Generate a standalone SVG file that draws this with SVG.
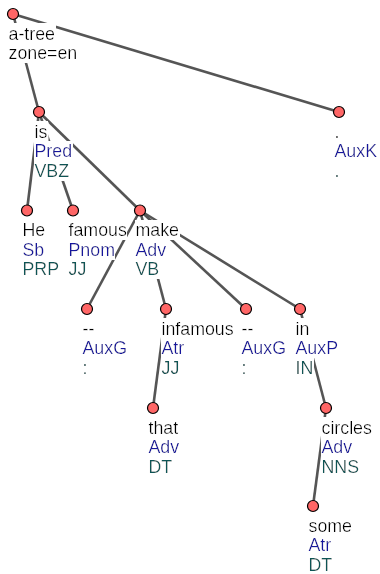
<svg xmlns="http://www.w3.org/2000/svg" width="380" height="574" viewBox="0 0 380 574">
<defs>
<filter id="bg" x="0" y="0" width="1" height="1"><feFlood flood-color="#ffffff"/><feComposite in="SourceGraphic"/></filter>
<style>
.e{stroke:#555;stroke-width:2.6;fill:none;stroke-linecap:butt}
.n{fill:#f66;stroke:#000;stroke-width:1.2}
text{font-family:"Liberation Sans",Arial,sans-serif;font-size:17.8px;filter:url(#bg)}
.f{fill:#000}
.a{fill:#16169c}
.t{fill:#0d5555}
</style>
</defs>
<rect width="380" height="574" fill="#fff"/>
<g id="connectors">
<line class="e" x1="13" y1="14" x2="39" y2="112"/>
<line class="e" x1="13" y1="14" x2="339" y2="112"/>
<line class="e" x1="39" y1="112" x2="27" y2="210.5"/>
<line class="e" x1="39" y1="112" x2="73" y2="210.5"/>
<line class="e" x1="39" y1="112" x2="140" y2="210.5"/>
<line class="e" x1="140" y1="210.5" x2="87" y2="309"/>
<line class="e" x1="140" y1="210.5" x2="166" y2="309"/>
<line class="e" x1="140" y1="210.5" x2="246" y2="309"/>
<line class="e" x1="140" y1="210.5" x2="300" y2="309"/>
<line class="e" x1="166" y1="309" x2="153" y2="408"/>
<line class="e" x1="300" y1="309" x2="326" y2="408"/>
<line class="e" x1="326" y1="408" x2="313" y2="506"/>
</g>
<g id="n-root"><circle class="n" cx="13" cy="14" r="5.5"/><text class="f" x="8.5" y="39.5">a-tree</text><text class="f" x="8.5" y="59">zone=en</text></g>
<g id="n-is"><circle class="n" cx="39" cy="112" r="5.5"/><rect x="34.5" y="122" width="14" height="19" fill="#fff"/><text class="f" x="34.5" y="137.5">is</text><text class="a" x="34.5" y="157">Pred</text><text class="t" x="34.5" y="176.5">VBZ</text></g>
<g id="n-period"><circle class="n" cx="339" cy="112" r="5.5"/><text class="f" x="334.5" y="137.5">.</text><text class="a" x="334.5" y="157">AuxK</text><text class="t" x="334.5" y="176.5">.</text></g>
<g id="n-he"><circle class="n" cx="27" cy="210.5" r="5.5"/><text class="f" x="22.5" y="236">He</text><text class="a" x="22.5" y="255.5">Sb</text><text class="t" x="22.5" y="275">PRP</text></g>
<g id="n-famous"><circle class="n" cx="73" cy="210.5" r="5.5"/><text class="f" x="68.5" y="236">famous</text><text class="a" x="68.5" y="255.5">Pnom</text><text class="t" x="68.5" y="275">JJ</text></g>
<g id="n-make"><circle class="n" cx="140" cy="210.5" r="5.5"/><text class="f" x="135.5" y="236">make</text><text class="a" x="135.5" y="255.5">Adv</text><text class="t" x="135.5" y="275">VB</text></g>
<g id="n-dash1"><circle class="n" cx="87" cy="309" r="5.5"/><text class="f" x="82.5" y="334.5">--</text><text class="a" x="82.5" y="354">AuxG</text><text class="t" x="82.5" y="373.5">:</text></g>
<g id="n-infamous"><circle class="n" cx="166" cy="309" r="5.5"/><text class="f" x="161.5" y="334.5">infamous</text><text class="a" x="161.5" y="354">Atr</text><text class="t" x="161.5" y="373.5">JJ</text></g>
<g id="n-dash2"><circle class="n" cx="246" cy="309" r="5.5"/><text class="f" x="241.5" y="334.5">--</text><text class="a" x="241.5" y="354">AuxG</text><text class="t" x="241.5" y="373.5">:</text></g>
<g id="n-in"><circle class="n" cx="300" cy="309" r="5.5"/><text class="f" x="295.5" y="334.5">in</text><text class="a" x="295.5" y="354">AuxP</text><text class="t" x="295.5" y="373.5">IN</text></g>
<g id="n-that"><circle class="n" cx="153" cy="408" r="5.5"/><text class="f" x="148.5" y="433.5">that</text><text class="a" x="148.5" y="453">Adv</text><text class="t" x="148.5" y="472.5">DT</text></g>
<g id="n-circles"><circle class="n" cx="326" cy="408" r="5.5"/><text class="f" x="321.5" y="433.5">circles</text><text class="a" x="321.5" y="453">Adv</text><text class="t" x="321.5" y="472.5">NNS</text></g>
<g id="n-some"><circle class="n" cx="313" cy="506" r="5.5"/><text class="f" x="308.5" y="531.5">some</text><text class="a" x="308.5" y="551">Atr</text><text class="t" x="308.5" y="570.5">DT</text></g>
</svg>
